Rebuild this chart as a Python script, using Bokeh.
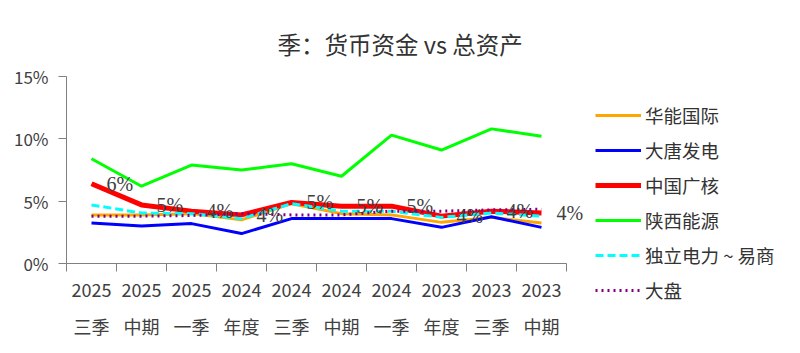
from bokeh.plotting import figure
from bokeh.models import (Range1d, FixedTicker, NumeralTickFormatter, Legend, LegendItem, Title,
                          ColumnDataSource, LabelSet)
from bokeh.embed import file_html
from bokeh.resources import INLINE

categories = ["2025\n三季", "2025\n中期", "2025\n一季", "2024\n年度", "2024\n三季",
              "2024\n中期", "2024\n一季", "2023\n年度", "2023\n三季", "2023\n中期"]
huaneng = [3.9, 3.9, 4.0, 3.5, 4.8, 4.0, 3.9, 3.3, 3.7, 3.25]
datang = [3.25, 3.0, 3.2, 2.4, 3.6, 3.6, 3.6, 2.9, 3.75, 2.9]
cgn = [6.4, 4.7, 4.2, 3.9, 4.9, 4.6, 4.6, 3.8, 4.2, 4.05]
shaanxi = [8.4, 6.2, 7.9, 7.5, 8.0, 7.0, 10.3, 9.1, 10.8, 10.2]
duli = [4.7, 4.05, 4.0, 3.6, 4.8, 4.2, 4.2, 3.7, 4.05, 3.8]
dapan = [3.8, 3.8, 3.85, 4.0, 3.9, 3.9, 4.2, 4.2, 4.3, 4.35]
y_ticks = [0, 0.05, 0.10, 0.15]

FONT = "Noto Sans CJK SC"
TXT = "#404040"

xs = list(range(len(categories)))
n = len(categories)

p = figure(frame_width=535, frame_height=187, output_backend="svg", toolbar_location=None,
           x_range=Range1d(-0.5, n - 0.5 + 0.7), y_range=Range1d(0, 0.15),
           min_border_left=66, min_border_right=0, min_border_top=76, min_border_bottom=90)
p.outline_line_color = None
p.grid.visible = False
p.background_fill_color = "white"

t = Title(text="季：货币资金 vs 总资产", align="left", offset=211, standoff=32,
          text_font=FONT, text_font_size="23.5px", text_font_style="normal", text_color="#333333")
p.title = t

xa = p.xaxis[0]
xa.bounds = (-0.5, n - 0.5)
xa.ticker = FixedTicker(ticks=xs, minor_ticks=[i - 0.5 for i in range(n + 1)])
xa.major_label_overrides = {i: c for i, c in enumerate(categories)}
xa.major_tick_line_color = None
xa.major_tick_out = 8
xa.major_tick_in = 0
xa.minor_tick_out = 8
xa.minor_tick_in = 0
xa.minor_tick_line_color = "#808080"
xa.axis_line_color = "#808080"
xa.major_label_standoff = 4
xa.major_label_text_font = FONT
xa.major_label_text_font_size = "18px"
xa.major_label_text_color = TXT
xa.major_label_text_line_height = 1.45

ya = p.yaxis[0]
ya.ticker = FixedTicker(ticks=y_ticks)
ya.formatter = NumeralTickFormatter(format="0%")
ya.minor_tick_line_color = None
ya.major_tick_out = 8
ya.major_tick_in = 0
ya.major_tick_line_color = "#808080"
ya.axis_line_color = "#808080"
ya.major_label_standoff = 10
ya.major_label_text_font = FONT
ya.major_label_text_font_size = "17px"
ya.major_label_text_color = TXT

def frac(v):
    return [x / 100 for x in v]

r1 = p.line(xs, frac(huaneng), line_color="#FFA500", line_width=3)
r2 = p.line(xs, frac(datang), line_color="#0000FF", line_width=3)
r3 = p.line(xs, frac(cgn), line_color="#FF0000", line_width=5)
r4 = p.line(xs, frac(shaanxi), line_color="#00FF00", line_width=3)
r5 = p.line(xs, frac(duli), line_color="#00FFFF", line_width=3, line_dash="8 4")
r6 = p.line(xs, frac(dapan), line_color="#800080", line_width=3, line_dash="2 4")

src = ColumnDataSource(dict(x=xs, y=frac(cgn), t=["%d%%" % round(v) for v in cgn]))
labels = LabelSet(x="x", y="y", text="t", source=src, x_offset=15, text_align="left",
                  text_baseline="middle", text_font=FONT, text_font_size="20px", text_color=TXT)
p.add_layout(labels)

legend = Legend(items=[
    LegendItem(label="华能国际", renderers=[r1]),
    LegendItem(label="大唐发电", renderers=[r2]),
    LegendItem(label="中国广核", renderers=[r3]),
    LegendItem(label="陕西能源", renderers=[r4]),
    LegendItem(label="独立电力 ~ 易商", renderers=[r5]),
    LegendItem(label="大盘", renderers=[r6]),
], location=(-6, -40), padding=0, margin=0, spacing=9, label_height=20, glyph_height=20,
    glyph_width=46, label_standoff=4, border_line_alpha=0, background_fill_alpha=0,
    label_text_font=FONT, label_text_font_size="18.5px", label_text_color="#333333")
p.add_layout(legend, "right")

open("out.html", "w").write(file_html(p, INLINE))
